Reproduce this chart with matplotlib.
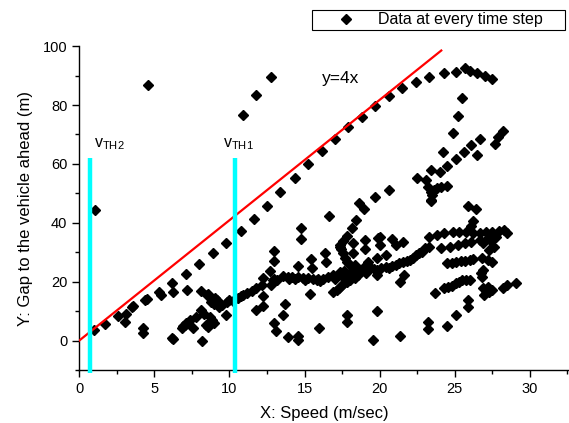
"""Gap to the vehicle ahead vs. speed, with y=4x guide and two threshold speeds."""

import matplotlib

matplotlib.use("Agg")

import matplotlib.pyplot as plt
import numpy as np
from matplotlib.ticker import MultipleLocator

plt.rcParams["font.family"] = ["Liberation Sans", "DejaVu Sans"]
plt.rcParams["mathtext.fontset"] = "custom"
plt.rcParams["mathtext.rm"] = "Liberation Sans"

# ------------------------------------------------------------
# Data: (speed m/s, gap m)
# ------------------------------------------------------------
upper_series = [
    (1.0, 3.5), (1.7, 5.8), (2.6, 8.5), (3.1, 9.2), (3.5, 11.5), (3.6, 11.8),
    (4.4, 13.8), (4.55, 14.0), (5.3, 16.6), (5.45, 15.4), (6.2, 19.6),
    (7.1, 22.7), (8.0, 26.1), (8.9, 29.7), (9.8, 33.2), (10.75, 37.3),
    (11.65, 41.4), (12.5, 45.8), (13.4, 50.5), (14.35, 55.2), (15.2, 60.0),
    (16.15, 64.4), (17.0, 68.5), (17.9, 72.5), (18.8, 76.0), (19.7, 79.7),
    (20.6, 83.0), (21.5, 85.8), (22.45, 87.8), (23.3, 89.5), (24.25, 90.8),
    (25.1, 91.2), (25.7, 92.5), (26.0, 91.5), (26.5, 90.8), (27.0, 89.8),
    (27.45, 88.8),
]

isolated = [(4.6, 86.7), (10.9, 76.6), (11.8, 83.4), (12.75, 89.5), (1.05, 44.2)]

upper_right = [
    (25.45, 82.4), (25.2, 76.3), (24.85, 70.5), (24.2, 64.0), (23.4, 58.0),
    (22.5, 55.3), (24.0, 57.3), (24.5, 59.3), (25.05, 61.7), (25.6, 64.1),
    (26.1, 66.4), (26.65, 68.5), (26.45, 63.0), (27.7, 66.8), (27.9, 69.2),
    (28.2, 71.2), (23.1, 54.6), (23.2, 52.2), (23.45, 50.5), (23.4, 47.8),
    (23.5, 49.5), (23.8, 51.9), (24.1, 52.2), (24.45, 52.5), (23.6, 51.0),
    (19.7, 48.8), (20.6, 51.2), (25.85, 45.8), (26.4, 44.7), (26.2, 40.7),
    (26.1, 39.0), (23.45, 47.5),
]

middle_scatter = [
    (14.75, 38.4), (14.75, 34.6), (16.65, 42.4), (18.6, 46.8), (18.95, 44.7),
    (18.45, 41.0), (18.15, 38.3), (17.8, 35.6), (17.55, 33.9), (17.35, 31.9),
    (18.2, 33.2), (19.05, 34.2), (19.9, 34.9), (19.05, 31.2), (18.2, 29.8),
    (19.8, 28.1), (19.2, 26.8), (16.35, 29.8), (16.4, 26.8), (15.4, 27.8),
    (15.5, 24.7), (14.55, 25.4), (12.95, 30.6), (12.95, 27.1), (12.7, 23.7),
    (20.0, 35.3), (20.0, 32.5), (20.85, 34.6), (21.55, 33.6), (21.1, 32.5),
    (20.45, 29.2), (20.6, 24.7), (21.35, 20.0), (21.65, 22.4), (18.35, 25.8),
]

right_bands = [
    (23.3, 35.3), (23.8, 35.9), (24.3, 36.6), (24.85, 36.9), (25.3, 36.9),
    (25.75, 37.0), (26.2, 36.6), (26.65, 36.6), (27.1, 36.9), (27.5, 36.9),
    (27.95, 37.3), (28.3, 37.6), (28.45, 36.6),
    (23.3, 31.9), (24.1, 31.5), (24.65, 31.9), (25.2, 32.5), (25.65, 33.2),
    (26.1, 33.6), (26.65, 34.2), (27.2, 34.9), (27.75, 35.3), (27.6, 31.9),
    (27.3, 30.8), (26.9, 33.0), (27.4, 33.8),
    (24.5, 26.4), (25.1, 26.8), (25.65, 27.1), (26.2, 27.8), (26.8, 28.1),
    (27.2, 27.5), (27.5, 26.8), (24.8, 26.5), (25.4, 27.0), (26.0, 27.4),
    (26.85, 24.1), (26.8, 21.7), (26.75, 23.0),
    (23.65, 16.3), (24.3, 18.0), (24.8, 18.6), (25.1, 19.7), (25.5, 20.7),
    (26.0, 20.7), (24.55, 18.3), (25.3, 20.0), (25.75, 20.5),
    (26.85, 18.0), (27.2, 18.3), (27.45, 17.3), (26.95, 15.6), (27.05, 17.0),
    (27.3, 16.5), (28.2, 18.0), (28.5, 19.0), (29.05, 19.7),
    (25.9, 13.9), (25.9, 11.5), (25.1, 8.8), (24.5, 5.1), (23.25, 6.4),
    (23.25, 4.1), (21.35, 1.7), (19.8, 10.2), (19.55, 0.3),
]

main_band = [
    (19.8, 24.1), (20.45, 25.1), (21.1, 25.8), (21.55, 26.8), (22.0, 27.5),
    (22.45, 29.2), (22.8, 30.2), (23.0, 31.5), (20.1, 24.6), (20.8, 25.4),
    (21.3, 26.2), (21.8, 27.0), (22.2, 28.2), (22.6, 29.8),
    (10.0, 13.9), (10.25, 13.6), (10.8, 15.0), (10.9, 15.6), (11.5, 17.0),
    (11.8, 17.9), (12.15, 19.0), (12.25, 21.3), (12.25, 15.3), (12.8, 19.0),
    (12.9, 20.7), (13.15, 20.7), (13.55, 22.0), (13.9, 21.5), (14.2, 21.7),
    (14.55, 21.5), (14.9, 21.4), (15.2, 21.2), (15.55, 21.0), (15.9, 21.0),
    (16.2, 21.0), (16.55, 21.6), (16.9, 22.4), (17.35, 23.4), (17.6, 23.6),
    (18.0, 23.0), (18.45, 23.4), (18.9, 24.7), (19.35, 25.1), (19.6, 24.5),
    (13.0, 21.0), (14.0, 20.8), (15.0, 20.5), (16.0, 20.3), (17.0, 21.0),
    (17.5, 22.0), (15.8, 20.6), (14.4, 20.9), (11.2, 16.2), (10.6, 14.5),
    (16.9, 16.6), (17.15, 17.3), (17.5, 19.0), (17.8, 20.0), (18.0, 20.7),
    (18.35, 21.4), (18.55, 22.4), (19.1, 23.4), (17.3, 18.0), (17.65, 19.5),
    (17.35, 32.5), (17.55, 29.8), (17.8, 26.8), (18.15, 25.1), (18.55, 24.1),
    (19.1, 23.0), (19.8, 22.4), (17.45, 31.0), (17.7, 28.2), (17.95, 26.0),
]

lower_scatter = [
    (11.75, 10.5), (12.25, 11.9), (13.0, 6.1), (13.1, 3.4), (13.7, 12.4),
    (13.55, 8.8), (13.9, 1.4), (14.6, 1.7), (14.6, 0.1), (15.95, 4.4),
    (15.35, 15.9), (17.8, 8.8), (17.85, 6.4),
    (3.06, 6.4), (4.25, 4.4), (4.25, 2.6), (6.2, 1.0), (6.25, 0.4),
    (6.25, 16.6), (7.2, 17.3), (6.9, 5.1), (6.85, 4.4), (7.1, 6.1),
    (7.35, 7.1), (7.6, 4.4), (7.8, 8.1), (8.1, 17.0), (8.15, 0.0),
    (8.3, 9.2), (8.5, 15.6), (8.6, 4.7), (8.7, 8.1), (8.75, 13.2),
    (8.9, 14.2), (9.0, 6.1), (9.15, 13.9), (9.3, 11.5), (9.8, 8.8),
    (9.85, 13.2), (8.1, 10.5), (8.85, 7.1), (8.45, 5.4), (9.05, 14.6),
    (8.95, 12.5), (9.5, 12.2), (8.6, 16.0), (7.05, 5.4),
]

# Guide line y = 4x as drawn, and the two threshold speeds.
guide_x = [0.0, 24.1]
guide_y = [0.0, 98.5]
vth_speeds = [0.75, 10.4]
vth_labels = ["v$_{\\mathrm{TH2}}$", "v$_{\\mathrm{TH1}}$"]
VTH_TOP = 62
VTH_BOTTOM = -11


def main():
    points = np.array(
        upper_series + isolated + upper_right + middle_scatter
        + right_bands + main_band + lower_scatter
    )

    fig = plt.figure(figsize=(5.69, 4.23), dpi=100)
    ax = fig.add_axes([0.139, 0.125, 0.861, 0.766])

    ax.plot(points[:, 0], points[:, 1], linestyle="none", marker="D",
            markersize=4.8, color="black", label="Data at every time step", zorder=2)
    ax.plot(guide_x, guide_y, color="red", linewidth=1.6, zorder=3)
    for xv in vth_speeds:
        ax.plot([xv, xv], [VTH_BOTTOM, VTH_TOP], color="#00FFFF", linewidth=3.2,
                solid_capstyle="butt", clip_on=False, zorder=4)

    ax.text(1.0, 65.8, vth_labels[0], fontsize=11.5)
    ax.text(9.57, 65.8, vth_labels[1], fontsize=11.5)
    ax.text(16.15, 87.5, "y=4x", fontsize=12.5)

    ax.set_xlim(0, 32.6)
    ax.set_ylim(-10, 100)
    ax.xaxis.set_major_locator(MultipleLocator(5))
    ax.xaxis.set_minor_locator(MultipleLocator(2.5))
    ax.yaxis.set_major_locator(MultipleLocator(20))
    ax.yaxis.set_minor_locator(MultipleLocator(10))
    ax.set_yticks([0, 20, 40, 60, 80, 100])
    ax.tick_params(which="major", direction="out", length=5, width=1, labelsize=10.5)
    ax.tick_params(which="minor", direction="out", length=3, width=1)
    for side in ("top", "right"):
        ax.spines[side].set_visible(False)
    for side in ("left", "bottom"):
        ax.spines[side].set_linewidth(1)

    ax.set_xlabel("X: Speed (m/sec)", fontsize=12, labelpad=7)
    ax.set_ylabel("Y: Gap to the vehicle ahead (m)", fontsize=12, labelpad=7)

    leg = ax.legend(loc="upper left", bbox_to_anchor=(312 / 569, 1 - 33 / 423, 253 / 569, 23 / 423),
                    bbox_transform=fig.transFigure, mode="expand", borderaxespad=0,
                    handlelength=4.0, handletextpad=0.0, borderpad=0.15,
                    fancybox=False, framealpha=1, fontsize=11.5)
    leg.get_frame().set_edgecolor("black")
    leg.get_frame().set_linewidth(0.8)

    fig.savefig("out.png", dpi=100)
    plt.close(fig)


if __name__ == "__main__":
    main()
